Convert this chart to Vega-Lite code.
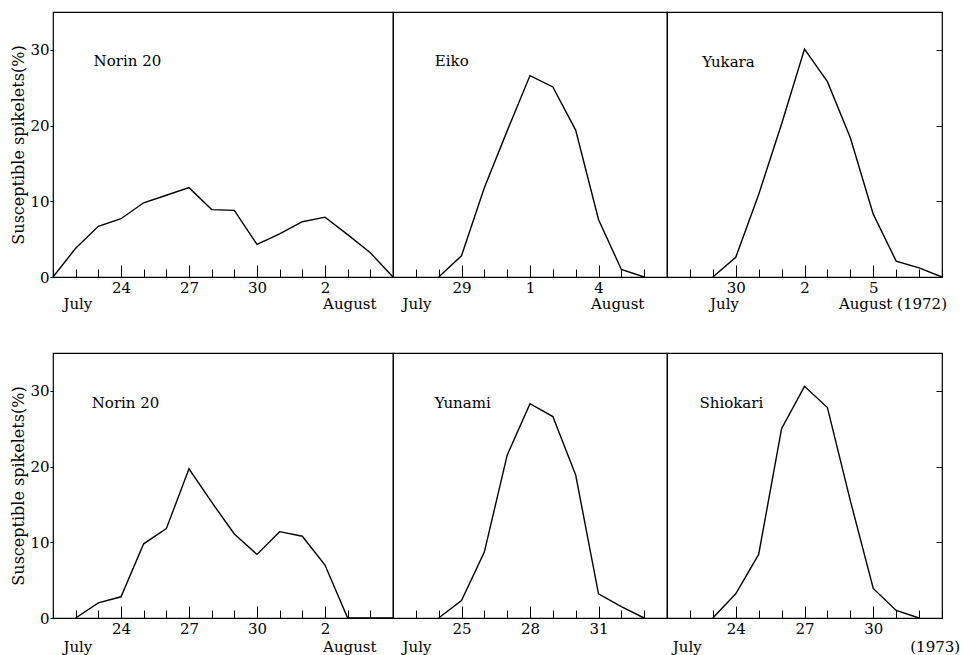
{
  "$schema": "https://vega.github.io/schema/vega-lite/v6.json",
  "padding": {"left": 10, "top": 11, "right": 0, "bottom": 0},
  "background": "white",
  "datasets": {
    "pts": [
      {"year": 1972, "variety": "Norin 20", "date": "1972-07-21", "pct": 0},
      {"year": 1972, "variety": "Norin 20", "date": "1972-07-22", "pct": 3.8},
      {"year": 1972, "variety": "Norin 20", "date": "1972-07-23", "pct": 6.7},
      {"year": 1972, "variety": "Norin 20", "date": "1972-07-24", "pct": 7.7},
      {"year": 1972, "variety": "Norin 20", "date": "1972-07-25", "pct": 9.8},
      {"year": 1972, "variety": "Norin 20", "date": "1972-07-26", "pct": 10.8},
      {"year": 1972, "variety": "Norin 20", "date": "1972-07-27", "pct": 11.8},
      {"year": 1972, "variety": "Norin 20", "date": "1972-07-28", "pct": 8.9},
      {"year": 1972, "variety": "Norin 20", "date": "1972-07-29", "pct": 8.8},
      {"year": 1972, "variety": "Norin 20", "date": "1972-07-30", "pct": 4.3},
      {"year": 1972, "variety": "Norin 20", "date": "1972-07-31", "pct": 5.7},
      {"year": 1972, "variety": "Norin 20", "date": "1972-08-01", "pct": 7.3},
      {"year": 1972, "variety": "Norin 20", "date": "1972-08-02", "pct": 7.9},
      {"year": 1972, "variety": "Norin 20", "date": "1972-08-03", "pct": 5.6},
      {"year": 1972, "variety": "Norin 20", "date": "1972-08-04", "pct": 3.2},
      {"year": 1972, "variety": "Norin 20", "date": "1972-08-05", "pct": 0},
      {"year": 1972, "variety": "Eiko", "date": "1972-07-28", "pct": 0},
      {"year": 1972, "variety": "Eiko", "date": "1972-07-29", "pct": 2.8},
      {"year": 1972, "variety": "Eiko", "date": "1972-07-30", "pct": 11.8},
      {"year": 1972, "variety": "Eiko", "date": "1972-07-31", "pct": 19.3},
      {"year": 1972, "variety": "Eiko", "date": "1972-08-01", "pct": 26.6},
      {"year": 1972, "variety": "Eiko", "date": "1972-08-02", "pct": 25.1},
      {"year": 1972, "variety": "Eiko", "date": "1972-08-03", "pct": 19.4},
      {"year": 1972, "variety": "Eiko", "date": "1972-08-04", "pct": 7.6},
      {"year": 1972, "variety": "Eiko", "date": "1972-08-05", "pct": 1.0},
      {"year": 1972, "variety": "Eiko", "date": "1972-08-06", "pct": 0},
      {"year": 1972, "variety": "Yukara", "date": "1972-07-29", "pct": 0},
      {"year": 1972, "variety": "Yukara", "date": "1972-07-30", "pct": 2.6},
      {"year": 1972, "variety": "Yukara", "date": "1972-07-31", "pct": 10.9},
      {"year": 1972, "variety": "Yukara", "date": "1972-08-01", "pct": 20.2},
      {"year": 1972, "variety": "Yukara", "date": "1972-08-02", "pct": 30.1},
      {"year": 1972, "variety": "Yukara", "date": "1972-08-03", "pct": 25.8},
      {"year": 1972, "variety": "Yukara", "date": "1972-08-04", "pct": 18.4},
      {"year": 1972, "variety": "Yukara", "date": "1972-08-05", "pct": 8.3},
      {"year": 1972, "variety": "Yukara", "date": "1972-08-06", "pct": 2.1},
      {"year": 1972, "variety": "Yukara", "date": "1972-08-07", "pct": 1.2},
      {"year": 1972, "variety": "Yukara", "date": "1972-08-08", "pct": 0},
      {"year": 1973, "variety": "Norin 20", "date": "1973-07-22", "pct": 0},
      {"year": 1973, "variety": "Norin 20", "date": "1973-07-23", "pct": 2.0},
      {"year": 1973, "variety": "Norin 20", "date": "1973-07-24", "pct": 2.8},
      {"year": 1973, "variety": "Norin 20", "date": "1973-07-25", "pct": 9.8},
      {"year": 1973, "variety": "Norin 20", "date": "1973-07-26", "pct": 11.8},
      {"year": 1973, "variety": "Norin 20", "date": "1973-07-27", "pct": 19.7},
      {"year": 1973, "variety": "Norin 20", "date": "1973-07-28", "pct": 15.3},
      {"year": 1973, "variety": "Norin 20", "date": "1973-07-29", "pct": 11.1},
      {"year": 1973, "variety": "Norin 20", "date": "1973-07-30", "pct": 8.4},
      {"year": 1973, "variety": "Norin 20", "date": "1973-07-31", "pct": 11.4},
      {"year": 1973, "variety": "Norin 20", "date": "1973-08-01", "pct": 10.8},
      {"year": 1973, "variety": "Norin 20", "date": "1973-08-02", "pct": 7.0},
      {"year": 1973, "variety": "Norin 20", "date": "1973-08-03", "pct": 0},
      {"year": 1973, "variety": "Norin 20", "date": "1973-08-04", "pct": 0},
      {"year": 1973, "variety": "Norin 20", "date": "1973-08-05", "pct": 0},
      {"year": 1973, "variety": "Yunami", "date": "1973-07-24", "pct": 0},
      {"year": 1973, "variety": "Yunami", "date": "1973-07-25", "pct": 2.3},
      {"year": 1973, "variety": "Yunami", "date": "1973-07-26", "pct": 8.7},
      {"year": 1973, "variety": "Yunami", "date": "1973-07-27", "pct": 21.5},
      {"year": 1973, "variety": "Yunami", "date": "1973-07-28", "pct": 28.3},
      {"year": 1973, "variety": "Yunami", "date": "1973-07-29", "pct": 26.6},
      {"year": 1973, "variety": "Yunami", "date": "1973-07-30", "pct": 18.9},
      {"year": 1973, "variety": "Yunami", "date": "1973-07-31", "pct": 3.2},
      {"year": 1973, "variety": "Yunami", "date": "1973-08-01", "pct": 1.5},
      {"year": 1973, "variety": "Yunami", "date": "1973-08-02", "pct": 0},
      {"year": 1973, "variety": "Shiokari", "date": "1973-07-23", "pct": 0},
      {"year": 1973, "variety": "Shiokari", "date": "1973-07-24", "pct": 3.2},
      {"year": 1973, "variety": "Shiokari", "date": "1973-07-25", "pct": 8.4},
      {"year": 1973, "variety": "Shiokari", "date": "1973-07-26", "pct": 25.0},
      {"year": 1973, "variety": "Shiokari", "date": "1973-07-27", "pct": 30.6},
      {"year": 1973, "variety": "Shiokari", "date": "1973-07-28", "pct": 27.8},
      {"year": 1973, "variety": "Shiokari", "date": "1973-07-29", "pct": 15.5},
      {"year": 1973, "variety": "Shiokari", "date": "1973-07-30", "pct": 3.9},
      {"year": 1973, "variety": "Shiokari", "date": "1973-07-31", "pct": 1.0},
      {"year": 1973, "variety": "Shiokari", "date": "1973-08-01", "pct": 0}
    ]
  },
  "columns": 3,
  "spacing": {"row": 76, "column": 0},
  "bounds": "flush",
  "concat": [
    {
      "width": 340, "height": 265,
      "layer": [
        {
          "data": {"name": "pts"},
          "transform": [{"filter": "datum.year == 1972 && datum.variety == 'Norin 20'"}],
          "mark": {"type": "line", "color": "black", "strokeWidth": 1.4},
          "encoding": {
            "x": {"field": "date", "type": "temporal",
              "scale": {"type": "utc", "domain": [{"year": 1972, "month": 7, "date": 21, "utc": true}, {"year": 1972, "month": 8, "date": 5, "utc": true}]},
              "axis": {"title": null, "tickCount": {"interval": "day", "step": 1},
                "labelExpr": "indexof([24,27,30,2], utcdate(datum.value)) >= 0 ? utcFormat(datum.value, '%-d') : ''",
                "tickSize": {"condition": {"test": "indexof([24,27,30,2], utcdate(datum.value)) >= 0", "value": -12}, "value": -8}}},
            "y": {"field": "pct", "type": "quantitative", "scale": {"domain": [0, 35]},
              "axis": {"title": "Susceptible spikelets(%)", "values": [0, 10, 20, 30], "tickSize": 3, "labelPadding": 1, "titlePadding": 3, "titleFontSize": 16}}
          }
        },
        {"data": {"values": [{}]}, "mark": {"type": "text", "align": "left", "baseline": "middle"},
          "encoding": {"x": {"datum": {"year": 1972, "month": 7, "date": 22, "hours": 19, "utc": true}}, "y": {"datum": 28.5}, "text": {"value": "Norin 20"}}},
        {"data": {"values": [{}]}, "mark": {"type": "text", "align": "left", "baseline": "middle"},
          "encoding": {"x": {"datum": {"year": 1972, "month": 7, "date": 21, "hours": 11, "utc": true}}, "y": {"datum": -3.6}, "text": {"value": "July"}}},
        {"data": {"values": [{}]}, "mark": {"type": "text", "align": "left", "baseline": "middle"},
          "encoding": {"x": {"datum": {"year": 1972, "month": 8, "date": 1, "hours": 22, "utc": true}}, "y": {"datum": -3.6}, "text": {"value": "August"}}}
      ]
    },
    {
      "width": 274, "height": 265,
      "layer": [
        {
          "data": {"name": "pts"},
          "transform": [{"filter": "datum.year == 1972 && datum.variety == 'Eiko'"}],
          "mark": {"type": "line", "color": "black", "strokeWidth": 1.4},
          "encoding": {
            "x": {"field": "date", "type": "temporal",
              "scale": {"type": "utc", "domain": [{"year": 1972, "month": 7, "date": 26, "utc": true}, {"year": 1972, "month": 8, "date": 7, "utc": true}]},
              "axis": {"title": null, "tickCount": {"interval": "day", "step": 1},
                "labelExpr": "indexof([29,1,4], utcdate(datum.value)) >= 0 ? utcFormat(datum.value, '%-d') : ''",
                "tickSize": {"condition": {"test": "indexof([29,1,4], utcdate(datum.value)) >= 0", "value": -12}, "value": -8}}},
            "y": {"field": "pct", "type": "quantitative", "scale": {"domain": [0, 35]}, "axis": null}
          }
        },
        {"data": {"values": [{}]}, "mark": {"type": "text", "align": "left", "baseline": "middle"},
          "encoding": {"x": {"datum": {"year": 1972, "month": 7, "date": 27, "hours": 20, "utc": true}}, "y": {"datum": 28.5}, "text": {"value": "Eiko"}}},
        {"data": {"values": [{}]}, "mark": {"type": "text", "align": "left", "baseline": "middle"},
          "encoding": {"x": {"datum": {"year": 1972, "month": 7, "date": 26, "hours": 10, "utc": true}}, "y": {"datum": -3.6}, "text": {"value": "July"}}},
        {"data": {"values": [{}]}, "mark": {"type": "text", "align": "left", "baseline": "middle"},
          "encoding": {"x": {"datum": {"year": 1972, "month": 8, "date": 3, "hours": 16, "utc": true}}, "y": {"datum": -3.6}, "text": {"value": "August"}}}
      ]
    },
    {
      "width": 275, "height": 265,
      "layer": [
        {
          "data": {"name": "pts"},
          "transform": [{"filter": "datum.year == 1972 && datum.variety == 'Yukara'"}],
          "mark": {"type": "line", "color": "black", "strokeWidth": 1.4},
          "encoding": {
            "x": {"field": "date", "type": "temporal",
              "scale": {"type": "utc", "domain": [{"year": 1972, "month": 7, "date": 27, "utc": true}, {"year": 1972, "month": 8, "date": 8, "utc": true}]},
              "axis": {"title": null, "tickCount": {"interval": "day", "step": 1},
                "labelExpr": "indexof([30,2,5], utcdate(datum.value)) >= 0 ? utcFormat(datum.value, '%-d') : ''",
                "tickSize": {"condition": {"test": "indexof([30,2,5], utcdate(datum.value)) >= 0", "value": -12}, "value": -8}}},
            "y": {"field": "pct", "type": "quantitative", "scale": {"domain": [0, 35]},
              "axis": {"orient": "right", "title": null, "labels": false, "values": [10, 20, 30], "tickSize": -6}}
          }
        },
        {"data": {"values": [{}]}, "mark": {"type": "text", "align": "left", "baseline": "middle"},
          "encoding": {"x": {"datum": {"year": 1972, "month": 7, "date": 28, "hours": 13, "utc": true}}, "y": {"datum": 28.4}, "text": {"value": "Yukara"}}},
        {"data": {"values": [{}]}, "mark": {"type": "text", "align": "left", "baseline": "middle"},
          "encoding": {"x": {"datum": {"year": 1972, "month": 7, "date": 28, "hours": 21, "utc": true}}, "y": {"datum": -3.6}, "text": {"value": "July"}}},
        {"data": {"values": [{}]}, "mark": {"type": "text", "align": "left", "baseline": "middle"},
          "encoding": {"x": {"datum": {"year": 1972, "month": 8, "date": 3, "hours": 12, "utc": true}}, "y": {"datum": -3.6}, "text": {"value": "August (1972)"}}}
      ]
    },
    {
      "width": 340, "height": 265,
      "layer": [
        {
          "data": {"name": "pts"},
          "transform": [{"filter": "datum.year == 1973 && datum.variety == 'Norin 20'"}],
          "mark": {"type": "line", "color": "black", "strokeWidth": 1.4},
          "encoding": {
            "x": {"field": "date", "type": "temporal",
              "scale": {"type": "utc", "domain": [{"year": 1973, "month": 7, "date": 21, "utc": true}, {"year": 1973, "month": 8, "date": 5, "utc": true}]},
              "axis": {"title": null, "tickCount": {"interval": "day", "step": 1},
                "labelExpr": "indexof([24,27,30,2], utcdate(datum.value)) >= 0 ? utcFormat(datum.value, '%-d') : ''",
                "tickSize": {"condition": {"test": "indexof([24,27,30,2], utcdate(datum.value)) >= 0", "value": -12}, "value": -8}}},
            "y": {"field": "pct", "type": "quantitative", "scale": {"domain": [0, 35]},
              "axis": {"title": "Susceptible spikelets(%)", "values": [0, 10, 20, 30], "tickSize": 3, "labelPadding": 1, "titlePadding": 3, "titleFontSize": 16}}
          }
        },
        {"data": {"values": [{}]}, "mark": {"type": "text", "align": "left", "baseline": "middle"},
          "encoding": {"x": {"datum": {"year": 1973, "month": 7, "date": 22, "hours": 17, "utc": true}}, "y": {"datum": 28.4}, "text": {"value": "Norin 20"}}},
        {"data": {"values": [{}]}, "mark": {"type": "text", "align": "left", "baseline": "middle"},
          "encoding": {"x": {"datum": {"year": 1973, "month": 7, "date": 21, "hours": 11, "utc": true}}, "y": {"datum": -3.8}, "text": {"value": "July"}}},
        {"data": {"values": [{}]}, "mark": {"type": "text", "align": "left", "baseline": "middle"},
          "encoding": {"x": {"datum": {"year": 1973, "month": 8, "date": 1, "hours": 22, "utc": true}}, "y": {"datum": -3.8}, "text": {"value": "August"}}}
      ]
    },
    {
      "width": 274, "height": 265,
      "layer": [
        {
          "data": {"name": "pts"},
          "transform": [{"filter": "datum.year == 1973 && datum.variety == 'Yunami'"}],
          "mark": {"type": "line", "color": "black", "strokeWidth": 1.4},
          "encoding": {
            "x": {"field": "date", "type": "temporal",
              "scale": {"type": "utc", "domain": [{"year": 1973, "month": 7, "date": 22, "utc": true}, {"year": 1973, "month": 8, "date": 3, "utc": true}]},
              "axis": {"title": null, "tickCount": {"interval": "day", "step": 1},
                "labelExpr": "indexof([25,28,31], utcdate(datum.value)) >= 0 ? utcFormat(datum.value, '%-d') : ''",
                "tickSize": {"condition": {"test": "indexof([25,28,31], utcdate(datum.value)) >= 0", "value": -12}, "value": -8}}},
            "y": {"field": "pct", "type": "quantitative", "scale": {"domain": [0, 35]}, "axis": null}
          }
        },
        {"data": {"values": [{}]}, "mark": {"type": "text", "align": "left", "baseline": "middle"},
          "encoding": {"x": {"datum": {"year": 1973, "month": 7, "date": 23, "hours": 20, "utc": true}}, "y": {"datum": 28.4}, "text": {"value": "Yunami"}}},
        {"data": {"values": [{}]}, "mark": {"type": "text", "align": "left", "baseline": "middle"},
          "encoding": {"x": {"datum": {"year": 1973, "month": 7, "date": 22, "hours": 10, "utc": true}}, "y": {"datum": -3.8}, "text": {"value": "July"}}}
      ]
    },
    {
      "width": 275, "height": 265,
      "layer": [
        {
          "data": {"name": "pts"},
          "transform": [{"filter": "datum.year == 1973 && datum.variety == 'Shiokari'"}],
          "mark": {"type": "line", "color": "black", "strokeWidth": 1.4},
          "encoding": {
            "x": {"field": "date", "type": "temporal",
              "scale": {"type": "utc", "domain": [{"year": 1973, "month": 7, "date": 21, "utc": true}, {"year": 1973, "month": 8, "date": 2, "utc": true}]},
              "axis": {"title": null, "tickCount": {"interval": "day", "step": 1},
                "labelExpr": "indexof([24,27,30], utcdate(datum.value)) >= 0 ? utcFormat(datum.value, '%-d') : ''",
                "tickSize": {"condition": {"test": "indexof([24,27,30], utcdate(datum.value)) >= 0", "value": -12}, "value": -8}}},
            "y": {"field": "pct", "type": "quantitative", "scale": {"domain": [0, 35]},
              "axis": {"orient": "right", "title": null, "labels": false, "values": [10, 20, 30], "tickSize": -6}}
          }
        },
        {"data": {"values": [{}]}, "mark": {"type": "text", "align": "left", "baseline": "middle"},
          "encoding": {"x": {"datum": {"year": 1973, "month": 7, "date": 22, "hours": 10, "utc": true}}, "y": {"datum": 28.4}, "text": {"value": "Shiokari"}}},
        {"data": {"values": [{}]}, "mark": {"type": "text", "align": "left", "baseline": "middle"},
          "encoding": {"x": {"datum": {"year": 1973, "month": 7, "date": 21, "hours": 6, "utc": true}}, "y": {"datum": -3.8}, "text": {"value": "July"}}},
        {"data": {"values": [{}]}, "mark": {"type": "text", "align": "right", "baseline": "middle"},
          "encoding": {"x": {"datum": {"year": 1973, "month": 8, "date": 2, "hours": 19, "utc": true}}, "y": {"datum": -3.8}, "text": {"value": "(1973)"}}}
      ]
    }
  ],
  "config": {
    "view": {"stroke": "black", "strokeWidth": 1.2},
    "axis": {"domain": false, "grid": false, "labelFont": "DejaVu Serif", "labelFontSize": 15, "labelColor": "black", "tickColor": "black", "tickWidth": 1, "labelPadding": 3, "labelOverlap": false, "titleFont": "DejaVu Serif", "titleFontWeight": "normal", "titleColor": "black"},
    "axisX": {"labelPadding": 15},
    "text": {"font": "DejaVu Serif", "fontSize": 15, "color": "black"}
  }
}
